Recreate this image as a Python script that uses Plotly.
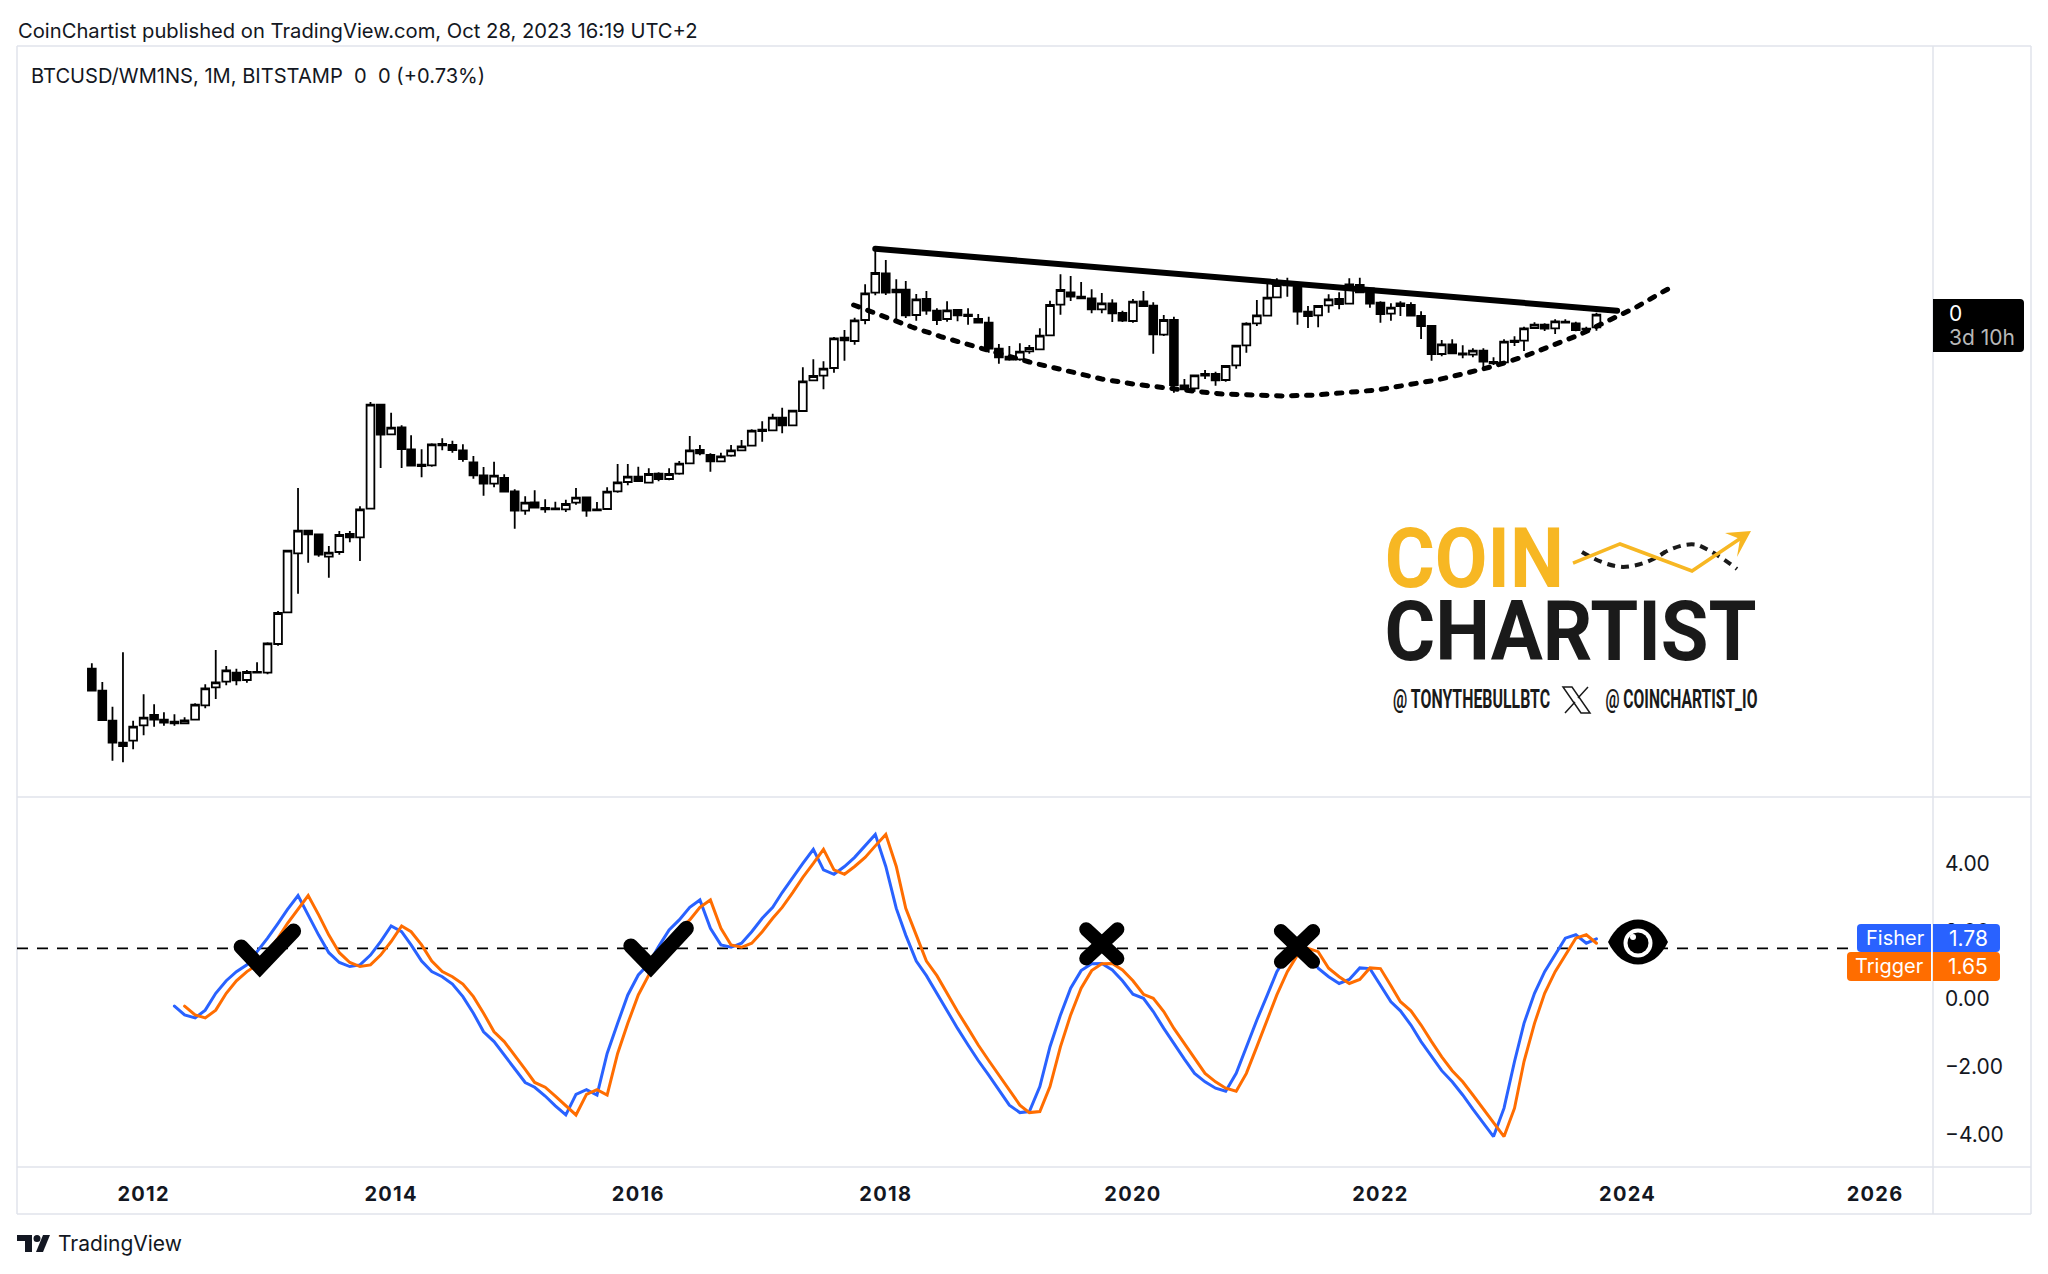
import pandas as pd
import plotly.graph_objects as go

W = 2048
H = 1274

# monthly candles, Aug 2011 to Oct 2023. the chart has no price scale so these are in pane units (log-like height)
first_month = "2011-08-01"
opens = [128.3, 106.3, 76.3, 54.3, 56.3, 71.7, 82, 77.3, 75.3, 73.7, 77.3, 91.7, 109.7, 115.3, 124.3, 117, 124.3, 124.3, 153, 184.7, 243.7,
         266.3, 262.7, 240.3, 245, 263, 259.7, 288.3, 392.3, 362.7, 369.7, 347.7, 332.3, 331.7, 353, 352, 346.7, 334.7, 321.7, 313.3, 319,
         305.7, 286.3, 294.7, 289, 287.7, 287.7, 294.3, 299.7, 286.7, 288, 305.7, 315, 320.3, 314.3, 323.3, 318, 323.3, 333.7, 347, 342,
         335.7, 341.3, 346.7, 351.3, 367.3, 366.7, 379.3, 371.7, 386, 416.7, 421.3, 429, 459.3, 456, 477, 504.3, 523.7, 507.3, 507.3, 482,
         498, 486.3, 478, 487, 482.3, 478, 474.3, 448.3, 440.3, 437.7, 445.7, 447.7, 461.7, 492.3, 504.7, 500.3, 498.7, 487.7, 493.7, 484,
         476, 495.7, 491.3, 462.3, 477, 411.7, 408.7, 423, 423, 417, 431.7, 451.7, 473.7, 481.3, 499.7, 514.3, 512, 485.3, 481.7, 491.7,
         498, 493.3, 512, 508.7, 494.3, 483.3, 493.7, 492, 481, 471, 443, 452.7, 443.7, 442.3, 446.3, 435, 434.7, 456.3, 456.3, 469, 472.3,
         468.7, 475.3, 473.7, 467.7, 469.7]
highs = [133.7, 115, 90.3, 144.7, 76.3, 102.7, 92.7, 84.7, 82.7, 79.7, 93.7, 112.7, 147, 131, 128.3, 127, 134.7, 154.7, 186, 246.3, 309,
         266.3, 262.7, 251, 266, 266, 290.7, 395, 392.3, 384.3, 371.7, 361.7, 347.7, 353.7, 358.7, 356.3, 352.7, 341, 330, 335.3, 322.7,
         307.7, 300.7, 306.7, 297.7, 295.3, 297.3, 309, 300.3, 295, 309.7, 333, 333, 330.3, 328.7, 324.7, 328.7, 336, 361, 352, 343.7,
         344.3, 352, 357, 367.7, 375.7, 383.3, 389.3, 386.3, 429.7, 437.7, 435.7, 460, 467, 479.3, 512.7, 547, 537, 517.7, 516, 503,
         506, 488.7, 495.7, 487, 488.7, 483, 480.3, 453, 451, 453.7, 452, 468.7, 496.3, 522.7, 521, 515, 507.7, 504, 497.7, 486.3,
         498, 506, 494.7, 482, 480.3, 418, 421.7, 427, 425.3, 432, 452, 474.7, 497, 513.7, 518.7, 519.3, 512, 491, 491, 502.7,
         504.7, 518.7, 519.3, 508.7, 495.7, 493.7, 495.7, 494.7, 485.7, 471.3, 457, 457.7, 451.7, 448.7, 448.7, 439.7, 457.7, 460.7, 470.3, 474.7, 473.7,
         477.7, 477.7, 475.3, 470.3, 484.3]
lows = [106.3, 77, 36.3, 34.7, 47.7, 61.7, 70.3, 71.3, 71.3, 73.7, 77, 88.7, 98, 111.7, 111.7, 114.3, 124.3, 122.7, 151.3, 184.7, 203.3,
        234.3, 240.3, 219.3, 242.3, 254.7, 236, 288.3, 329, 362.7, 329, 330.7, 319.7, 330.3, 346.7, 344.3, 335.3, 318.3, 301.3, 309.7, 304.7,
        268.3, 282.3, 288.7, 284.3, 287.7, 285, 292.3, 280.3, 286.3, 288, 304.3, 311.7, 316, 314.3, 315.7, 316.7, 322.3, 333.7, 341.7, 325.3,
        335.3, 340.3, 346.3, 351.3, 355.3, 366.7, 363.7, 371.7, 386, 416.7, 407.7, 424.3, 436.3, 452.3, 472.7, 501.7, 502, 477, 479, 476.3,
        482.3, 472, 475.3, 475.7, 472.3, 474.3, 444.3, 433.3, 436.3, 436.3, 443.3, 447.7, 461.7, 482.3, 496, 498.7, 483.7, 483.7, 475, 475,
        474.3, 491, 443.3, 461, 404.3, 407, 405.3, 418, 411.3, 415.3, 428.3, 444.3, 471, 481.3, 499.7, 500.3, 472.3, 469, 469.7, 484.3,
        487.7, 493.3, 503.7, 489.3, 474.3, 476.3, 481, 481.3, 458, 436.3, 440.7, 443.7, 438.7, 439.7, 427, 432, 433.7, 451, 446, 468, 466,
        463, 473.7, 465.7, 467, 466.3]
closes = [106.3, 77, 54.3, 51, 70.3, 79.3, 77.3, 74.3, 73.7, 76.7, 92.3, 108.7, 114.7, 126.7, 116.7, 125, 125, 153.7, 184, 246.3, 266.3,
          262.7, 242.3, 244.3, 262, 259.7, 287.7, 392.3, 362.3, 369.3, 348, 331.3, 331, 352.7, 351.7, 347, 338, 321.7, 313.3, 321.3, 305.3,
          286.3, 294.3, 289.3, 287.7, 288.7, 293, 299.3, 286.3, 287.7, 305.3, 314.7, 320.3, 316, 323, 318, 323, 333.3, 346.7, 343.7, 335.7,
          340.7, 346.7, 350.7, 366.3, 366, 379.3, 371.7, 386.3, 415.7, 421, 428.3, 458.7, 456.7, 476.7, 503.7, 524, 504.3, 504.7, 481.7, 497.7,
          486.3, 477, 486.7, 481.7, 481, 474.3, 448.3, 439.7, 437.3, 445.3, 449, 461.3, 492, 507, 500.3, 498.7, 487.7, 493.7, 483.7, 476.3,
          495.3, 491, 462.7, 477, 412, 407.7, 421.7, 421.3, 416.7, 431, 451.3, 473.3, 481.7, 499.3, 512, 511.7, 485.3, 481, 491, 497.7,
          493, 512.7, 504.7, 493.3, 483, 489.3, 491, 481.3, 471, 443, 452.7, 443.7, 442.3, 446.3, 435.3, 433.7, 455.3, 455, 468.7, 472.3, 468.3,
          475.7, 474.3, 467, 468.3, 482.3]

# Fisher transform, monthly from Apr 2012 to Oct 2023
fisher_first_month = "2012-04-01"
fisher = [-0.21, -0.47, -0.56, -0.33, 0.17, 0.54, 0.81, 1.01, 1.40, 1.80, 2.24, 2.65, 3.06, 2.49, 1.89, 1.37, 1.08, 0.96, 1.01, 1.30,
          1.70, 2.16, 1.99, 1.60, 1.12, 0.81, 0.66, 0.44, 0.07, -0.42, -0.97, -1.26, -1.66, -2.08, -2.47, -2.61, -2.87, -3.16, -3.43, -2.82,
          -2.68, -2.84, -1.61, -0.72, 0.12, 0.71, 1.04, 1.55, 2.04, 2.34, 2.71, 2.93, 2.09, 1.60, 1.53, 1.65, 1.99, 2.39, 2.71, 3.15,
          3.60, 4.01, 4.43, 3.82, 3.69, 3.92, 4.19, 4.53, 4.87, 3.92, 2.68, 1.89, 1.12, 0.69, 0.15, -0.37, -0.87, -1.36, -1.82, -2.25,
          -2.69, -3.14, -3.36, -3.33, -2.59, -1.41, -0.47, 0.32, 0.84, 1.04, 1.05, 0.86, 0.54, 0.14, 0.02, -0.37, -0.87, -1.33, -1.78, -2.20,
          -2.45, -2.64, -2.73, -2.20, -1.41, -0.62, 0.12, 0.81, 1.30, 1.50, 1.40, 0.91, 0.66, 0.46, 0.58, 0.92, 0.90, 0.39, -0.08, -0.35,
          -0.77, -1.26, -1.71, -2.12, -2.45, -2.84, -3.26, -3.68, -4.07, -3.23, -1.85, -0.72, 0.17, 0.81, 1.30, 1.80, 1.90, 1.65, 1.78]
trigger_first_month = "2012-05-01"
trigger = [-0.21, -0.47, -0.56, -0.33, 0.17, 0.54, 0.81, 1.01, 1.40, 1.80, 2.24, 2.65, 3.06, 2.49, 1.89, 1.37, 1.08, 0.96, 1.01, 1.30,
           1.70, 2.16, 1.99, 1.60, 1.12, 0.81, 0.66, 0.44, 0.07, -0.42, -0.97, -1.26, -1.66, -2.08, -2.47, -2.61, -2.87, -3.16, -3.43, -2.82,
           -2.68, -2.84, -1.61, -0.72, 0.12, 0.71, 1.04, 1.55, 2.04, 2.34, 2.71, 2.93, 2.09, 1.60, 1.53, 1.65, 1.99, 2.39, 2.71, 3.15,
           3.60, 4.01, 4.43, 3.82, 3.69, 3.92, 4.19, 4.53, 4.87, 3.92, 2.68, 1.89, 1.12, 0.69, 0.15, -0.37, -0.87, -1.36, -1.82, -2.25,
           -2.69, -3.14, -3.36, -3.33, -2.59, -1.41, -0.47, 0.32, 0.84, 1.04, 1.05, 0.86, 0.54, 0.14, 0.02, -0.37, -0.87, -1.33, -1.78, -2.20,
           -2.45, -2.64, -2.73, -2.20, -1.41, -0.62, 0.12, 0.81, 1.30, 1.50, 1.40, 0.91, 0.66, 0.46, 0.58, 0.92, 0.90, 0.39, -0.08, -0.35,
           -0.77, -1.26, -1.71, -2.12, -2.45, -2.84, -3.26, -3.68, -4.07, -3.23, -1.85, -0.72, 0.17, 0.81, 1.30, 1.80, 1.90, 1.65]

# drawn trend lines on the price pane
top_line_dates = ["2017-12-01", "2023-12-01"]
top_line_levels = [548.3, 486.3]
arc_dates = ["2017-09-28", "2017-12-22", "2018-03-19", "2018-06-16", "2018-09-16", "2019-03-01", "2019-05-28", "2019-10-01", "2020-01-01",
             "2020-03-28", "2020-06-25", "2020-09-22", "2020-12-25", "2021-03-22", "2021-06-25", "2021-09-22", "2021-12-22", "2022-03-19",
             "2022-06-16", "2022-09-13", "2022-12-04", "2023-02-25", "2023-05-22", "2023-08-10", "2023-10-28", "2024-01-22", "2024-04-13", "2024-05-05"]
arc_levels = [492, 481, 470, 460, 451, 435, 428, 418, 413, 409, 406, 403, 402, 401, 402, 404, 407, 412, 417, 424, 431, 440, 451, 462, 475, 489, 505, 509]

# check marks and crosses drawn on the indicator pane
check_dates = ["2012-10-15", "2012-12-09", "2013-03-19", None, "2015-12-10", "2016-02-07", "2016-05-22"]
check_values = [1.54, 0.96, 2.01, None, 1.57, 0.96, 2.09]
cross_dates = ["2019-08-16", "2019-11-16", None, "2019-08-16", "2019-11-16", None,
               "2021-03-13", "2021-06-16", None, "2021-03-13", "2021-06-16"]
cross_values = [2.06, 1.20, None, 1.20, 2.06, None, 2.01, 1.10, None, 1.10, 2.01]

level_value = 1.5
indicator_ticks = [4, 2, 0, -2, -4]
year_ticks = ["2012-01-01", "2014-01-01", "2016-01-01", "2018-01-01", "2020-01-01", "2022-01-01", "2024-01-01", "2026-01-01"]

BLUE = "#2962FF"
ORANGE = "#FF6D00"
FRAME = "#E0E3EB"
YELLOW = "#F7B723"
INK = "#1A1A1A"
FONT = "Inter, Roboto, sans-serif"
LOGO_FONT = "Roboto, sans-serif"


def p(x, y):
    return f"{x / W:.5f},{1 - y / H:.5f}"


def rounded(x0, y0, x1, y1, left=4, right=4):
    return (f"M {p(x0 + left, y0)} L {p(x1 - right, y0)} Q {p(x1, y0)} {p(x1, y0 + right)} "
            f"L {p(x1, y1 - right)} Q {p(x1, y1)} {p(x1 - right, y1)} L {p(x0 + left, y1)} "
            f"Q {p(x0, y1)} {p(x0, y1 - left)} L {p(x0, y0 + left)} Q {p(x0, y0)} {p(x0 + left, y0)} Z")


def filled(path, color):
    return dict(type="path", xref="paper", yref="paper", path=path, fillcolor=color, line=dict(width=0))


def stroked(path, color, width, dash="solid"):
    return dict(type="path", xref="paper", yref="paper", path=path, line=dict(color=color, width=width, dash=dash))


def frame_line(x0, y0, x1, y1):
    return dict(type="line", xref="paper", yref="paper", x0=x0 / W, y0=1 - y0 / H, x1=x1 / W, y1=1 - y1 / H,
                line=dict(color=FRAME, width=1.5), layer="below")


def circle(cx, cy, r, color):
    return dict(type="circle", xref="paper", yref="paper", x0=(cx - r) / W, x1=(cx + r) / W,
                y0=1 - (cy + r) / H, y1=1 - (cy - r) / H, fillcolor=color, line=dict(width=0))


def label(x, y, text, size, color="#131722", anchor="left", family=FONT, weight=400):
    return dict(xref="paper", yref="paper", x=x / W, y=1 - y / H, text=text, showarrow=False, xanchor=anchor, yanchor="middle",
                align=anchor, font=dict(size=size, color=color, family=family, weight=weight))


candle_dates = pd.date_range(first_month, periods=len(opens), freq="MS")
fig = go.Figure()
fig.add_trace(go.Candlestick(
    x=candle_dates, open=opens, high=highs, low=lows, close=closes, yaxis="y", xaxis="x",
    whiskerwidth=0,
    increasing=dict(fillcolor="white", line=dict(color="black", width=1.8)),
    decreasing=dict(fillcolor="black", line=dict(color="black", width=1.8)),
    name="BTCUSD/WM1NS"))
fig.add_trace(go.Scatter(x=top_line_dates, y=top_line_levels, mode="lines", yaxis="y", xaxis="x",
                         line=dict(color="black", width=6), name="resistance"))
fig.add_trace(go.Scatter(x=arc_dates, y=arc_levels, mode="lines", yaxis="y", xaxis="x",
                         line=dict(color="black", width=5, dash="5.5px,9.5px"), name="arc"))
fig.add_trace(go.Scatter(x=pd.date_range(fisher_first_month, periods=len(fisher), freq="MS"), y=fisher, mode="lines",
                         yaxis="y2", xaxis="x", line=dict(color=BLUE, width=3), name="Fisher"))
fig.add_trace(go.Scatter(x=pd.date_range(trigger_first_month, periods=len(trigger), freq="MS"), y=trigger, mode="lines",
                         yaxis="y2", xaxis="x", line=dict(color=ORANGE, width=3), name="Trigger"))
fig.add_trace(go.Scatter(x=check_dates, y=check_values, mode="lines", yaxis="y2", xaxis="x",
                         line=dict(color="black", width=15), name="check"))
fig.add_trace(go.Scatter(x=cross_dates, y=cross_values, mode="lines", yaxis="y2", xaxis="x",
                         line=dict(color="black", width=14), name="cross"))

shapes = [
    frame_line(17, 46, 2031, 46), frame_line(17, 797, 2031, 797), frame_line(17, 1167, 2031, 1167), frame_line(17, 1214, 2031, 1214),
    frame_line(17, 46, 17, 1214), frame_line(1933, 46, 1933, 1214), frame_line(2031, 46, 2031, 1214),
    dict(type="line", xref="paper", yref="y2", x0=17 / W, x1=1857 / W, y0=level_value, y1=level_value,
         line=dict(color="black", width=1.8, dash="11px,9px"), layer="below"),
    # last price tag
    filled(rounded(1933, 299, 2024, 352, left=0), "black"),
    # indicator tags
    filled(rounded(1857, 924, 1931, 952, right=0), BLUE), filled(rounded(1933, 924, 2000, 952, left=0), BLUE),
    filled(rounded(1847, 952, 1931, 981, right=0), ORANGE), filled(rounded(1933, 952, 2000, 981, left=0), ORANGE),
    # eye
    filled(f"M {p(1608, 942)} C {p(1622, 912)} {p(1654, 912)} {p(1668, 942)} C {p(1654, 972)} {p(1622, 972)} {p(1608, 942)} Z", "black"),
    circle(1638, 943, 14.5, "white"), circle(1638, 943, 10.5, "black"), circle(1633, 937, 3, "white"),
    # CoinChartist logo
    stroked(f"M {p(1582, 552)} Q {p(1605, 566)} {p(1623, 567)} Q {p(1645, 566)} {p(1665, 552)} Q {p(1685, 542)} {p(1698, 545)} Q {p(1715, 552)} {p(1737, 569)}",
            INK, 4, "8px,6px"),
    stroked(f"M {p(1573, 563)} L {p(1620, 544)} L {p(1692, 571)} L {p(1744, 536)}", YELLOW, 3.5),
    filled(f"M {p(1751, 531)} L {p(1725, 533)} L {p(1740, 539)} L {p(1737, 557)} Z", YELLOW),
    stroked(f"M {p(1563, 687)} L {p(1572, 687)} L {p(1590, 713)} L {p(1581, 713)} Z", INK, 1.5),
    stroked(f"M {p(1588, 687)} L {p(1578, 698)} M {p(1575, 702)} L {p(1565, 713)}", INK, 1.5),
    # TradingView mark
    filled(f"M {p(32, 1252)} L {p(25, 1252)} L {p(25, 1241)} L {p(17, 1241)} L {p(17, 1235)} L {p(32, 1235)} Z", "#131722"),
    filled(f"M {p(43, 1252)} L {p(36, 1252)} L {p(43, 1235)} L {p(50, 1235)} Z", "#131722"),
    circle(37, 1238.5, 3.5, "#131722"),
]

annotations = [
    label(15.5, 30, "CoinChartist published on TradingView.com, Oct 28, 2023 16:19 UTC+2", 20.2),
    label(29, 76, "BTCUSD/WM1NS, 1M, BITSTAMP  0  0 (+0.73%)", 20.1),
    label(1947, 313, "0", 21, "white"),
    label(1947, 337, "3d 10h", 21, "#B8B8B8"),
    label(1895, 938, "Fisher", 20, "white", "center"),
    label(1968, 938, "1.78", 21, "white", "center"),
    label(1889, 966, "Trigger", 20, "white", "center"),
    label(1968, 966, "1.65", 21, "white", "center"),
    label(56, 1243, "TradingView", 21),
    label(1474, 558, "COIN", 84, YELLOW, "center", LOGO_FONT, 700),
    label(1570, 631, "CHARTIST", 84, INK, "center", LOGO_FONT, 700),
    label(1471.5, 699, "@ TONYTHEBULLBTC", 25, INK, "center", LOGO_FONT, 700),
    label(1681, 699, "@ COINCHARTIST_IO", 25, INK, "center", LOGO_FONT, 700),
]

fig.update_layout(
    width=W, height=H,
    margin=dict(l=0, r=0, t=0, b=0),
    paper_bgcolor="white", plot_bgcolor="white",
    showlegend=False,
    boxmode="overlay", boxgap=0.18, boxgroupgap=0,
    shapes=shapes,
    annotations=annotations,
    xaxis=dict(domain=[17 / W, 1933 / W], anchor="y2", type="date", range=["2010-12-23", "2026-06-21"],
               tickvals=year_ticks, tickformat="%Y", showgrid=False, zeroline=False, showline=False, ticks="",
               ticklabelstandoff=13, tickfont=dict(family=FONT, size=20, color="#131722", weight=700),
               rangeslider=dict(visible=False)),
    yaxis=dict(domain=[1 - 797 / H, 1 - 46 / H], anchor="x", range=[0, 751], visible=False),
    yaxis2=dict(domain=[1 - 1167 / H, 1 - 797 / H], anchor="x", side="right", range=[-4.97, 5.976],
                tickvals=indicator_ticks, tickformat=".2f", showgrid=False, zeroline=False, showline=False, ticks="",
                ticklabelstandoff=11, tickfont=dict(family=FONT, size=21, color="#131722")),
)

# page margin off, round line ends, spaced year labels, and the logo text squeezed to the logo's narrow widths
post_script = """
document.body.style.margin = '0';
document.querySelectorAll('.scatterlayer .js-line').forEach(function (el) { el.style.strokeLinecap = 'round'; });
document.querySelectorAll('.xtick text').forEach(function (el) { el.style.letterSpacing = '1.3px'; });
var logoWidths = {'COIN': 179, 'CHARTIST': 372, '@ TONYTHEBULLBTC': 157, '@ COINCHARTIST_IO': 152};
document.querySelectorAll('.annotation-text').forEach(function (el) {
    var w = logoWidths[el.textContent];
    if (w) { el.setAttribute('textLength', w); el.setAttribute('lengthAdjust', 'spacingAndGlyphs'); }
});
"""
fig.write_html("out.html", config=dict(displayModeBar=False), post_script=post_script)
